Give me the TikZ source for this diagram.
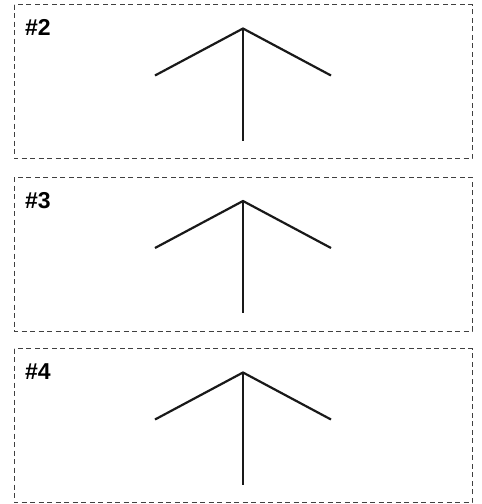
\documentclass[tikz,border=0pt]{standalone}
\usepackage{fontspec}
\setmainfont{Liberation Sans}
\begin{document}
\begin{tikzpicture}[x=1pt,y=-1pt,
  panel/.style={draw=black!75,line width=1pt,dash pattern=on 5pt off 3.5pt},
  stroke/.style={draw=black!90,line width=2.2pt},
  lab/.style={font=\bfseries\fontsize{23}{26}\selectfont,anchor=base west,inner sep=0pt}]
\useasboundingbox (0,0) rectangle (482,504);
\foreach \i/\n/\t in {0/2/4.5,1/3/177,2/4/348.5}{
  \draw[panel] (14,\t) rectangle (472,\t+154);
  \node[lab] (l\n) at (25,\t+31) {\#\n};
  \coordinate (apex\n) at (243,\t+24);
  \coordinate (left\n) at (155,\t+71);
  \coordinate (right\n) at (331,\t+71);
  \coordinate (foot\n) at (243,\t+136);
  \draw[stroke] (left\n) -- (apex\n) -- (right\n);
  \draw[stroke] (apex\n) -- (foot\n);
}
\end{tikzpicture}
\end{document}
